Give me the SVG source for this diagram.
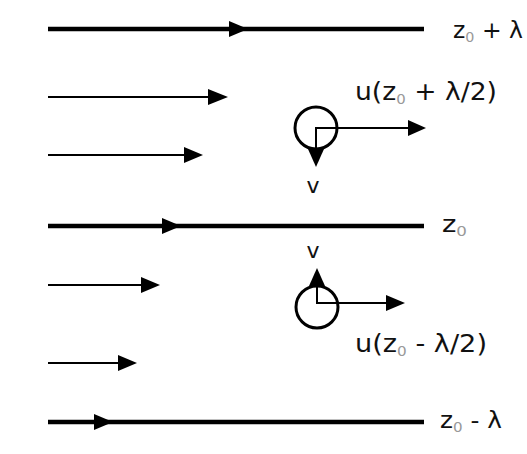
<svg xmlns="http://www.w3.org/2000/svg" width="527" height="454" viewBox="0 0 527 454">
<style>
.thick{stroke:#000;stroke-width:4.5;fill:none}
.thin{stroke:#000;stroke-width:2;fill:none}
.head{fill:#000;stroke:none}
.circ{stroke:#000;stroke-width:3;fill:none}
.lbl{font-family:"DejaVu Sans",Verdana,sans-serif;font-size:25px;fill:#111}
.sm{font-size:23px}
.sub{font-size:14px;fill:#999}
.v{font-family:"DejaVu Sans",Verdana,sans-serif;font-size:22px;fill:#111}
</style>
<rect width="527" height="454" fill="#fff"/>
<g id="streamlines">
  <line class="thick" x1="48" y1="29" x2="424" y2="29"/>
  <polygon class="head" points="229,21 248,29 229,37"/>
  <line class="thick" x1="48" y1="226" x2="424" y2="226"/>
  <polygon class="head" points="162,218 181,226 162,234"/>
  <line class="thick" x1="48" y1="422" x2="424" y2="422"/>
  <polygon class="head" points="94,414 113,422 94,430"/>
</g>
<g id="velocity-arrows">
  <line class="thin" x1="48" y1="97" x2="212" y2="97"/>
  <polygon class="head" points="208,89 228,97 208,105"/>
  <line class="thin" x1="48" y1="155" x2="188" y2="155"/>
  <polygon class="head" points="184,147 203,155 184,163"/>
  <line class="thin" x1="48" y1="285" x2="144" y2="285"/>
  <polygon class="head" points="141,277 160,285 141,293"/>
  <line class="thin" x1="48" y1="363" x2="122" y2="363"/>
  <polygon class="head" points="118,355 137,363 118,371"/>
</g>
<g id="vortex-top">
  <circle class="circ" cx="316" cy="128" r="21"/>
  <polyline class="thin" points="410,128 316,128 316,152"/>
  <polygon class="head" points="408,120 426,128 408,136"/>
  <polygon class="head" points="308,149 316,167 324,149"/>
</g>
<g id="vortex-bottom">
  <circle class="circ" cx="317" cy="307" r="21"/>
  <polyline class="thin" points="390,303 317,303 317,283"/>
  <polygon class="head" points="386,295 405,303 386,311"/>
  <polygon class="head" points="309,286 317,268 325,286"/>
</g>
<g id="labels">
  <text class="lbl sm" x="453" y="38" textLength="70" lengthAdjust="spacingAndGlyphs">z<tspan class="sub" dy="4">0</tspan><tspan dy="-4"> + λ</tspan></text>
  <text class="lbl" x="355" y="100" textLength="142" lengthAdjust="spacingAndGlyphs">u(z<tspan class="sub" dy="4">0</tspan><tspan dy="-4"> + λ/2)</tspan></text>
  <text class="v" x="313" y="193" text-anchor="middle">v</text>
  <text class="lbl sm" x="442" y="232" textLength="25" lengthAdjust="spacingAndGlyphs">z<tspan class="sub" dy="4">0</tspan></text>
  <text class="v" x="313" y="258" text-anchor="middle">v</text>
  <text class="lbl" x="355" y="352" textLength="132" lengthAdjust="spacingAndGlyphs">u(z<tspan class="sub" dy="4">0</tspan><tspan dy="-4"> - λ/2)</tspan></text>
  <text class="lbl sm" x="440" y="428" textLength="62" lengthAdjust="spacingAndGlyphs">z<tspan class="sub" dy="4">0</tspan><tspan dy="-4"> - λ</tspan></text>
</g>
</svg>
